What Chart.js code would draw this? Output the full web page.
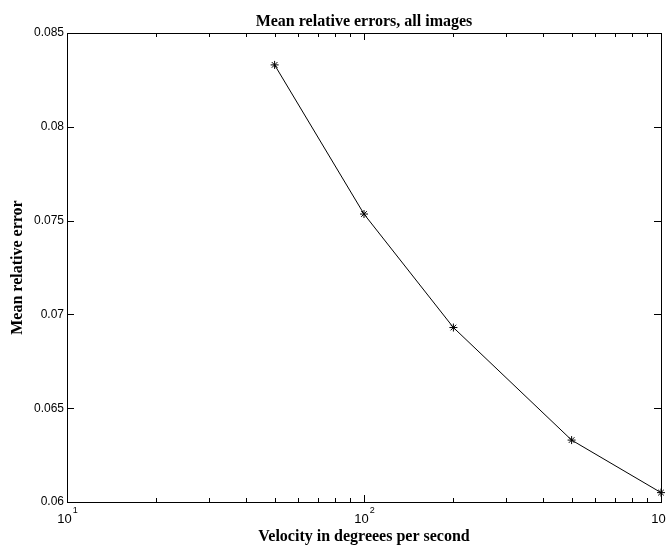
<!DOCTYPE html>
<html>
<head>
<meta charset="utf-8">
<script src="https://cdn.jsdelivr.net/npm/chart.js@4.4.0/dist/chart.umd.min.js"></script>
<style>
    html, body { margin: 0; padding: 0; background: #ffffff; }
    #wrap { width: 666px; height: 546px; }
</style>
</head>
<body>
<div id="wrap"><canvas id="errChart" width="666" height="546"></canvas></div>
<script>
// velocities (deg/s) and the mean relative error at each one
const velocities = [50, 100, 200, 500, 1000];
const meanErrors = [0.0833, 0.07535, 0.0693, 0.0633, 0.0605];

// axis ticks
const yTicks = [0.06, 0.065, 0.07, 0.075, 0.08, 0.085];
const yTickLabels = ['0.06', '0.065', '0.07', '0.075', '0.08', '0.085'];
const xMajorTicks = [10, 100, 1000];
const xMajorLabels = ['10', '10', '10'];
const xMajorExponents = ['1', '2', '3'];
const xMinorTicks = [20, 30, 40, 50, 60, 70, 80, 90, 200, 300, 400, 500, 600, 700, 800, 900];

const titleText = 'Mean relative errors, all images';
const xTitleText = 'Velocity in degreees per second';
const yTitleText = 'Mean relative error';

// box frame, inward ticks and all text
const framePlugin = {
    id: 'frame',
    afterDraw: function (chart) {
        const ctx = chart.ctx;
        const area = chart.chartArea;
        const xs = chart.scales.x;
        const ys = chart.scales.y;
        ctx.save();
        ctx.strokeStyle = '#000000';
        ctx.lineWidth = 1;

        // outer box
        ctx.strokeRect(Math.round(area.left) + 0.5, Math.round(area.top) + 0.5,
            Math.round(area.right - area.left), Math.round(area.bottom - area.top));

        ctx.beginPath();
        function xTick(v, len) {
            const px = Math.round(xs.getPixelForValue(v)) + 0.5;
            ctx.moveTo(px, area.bottom);
            ctx.lineTo(px, area.bottom - len);
            ctx.moveTo(px, area.top);
            ctx.lineTo(px, area.top + len);
        }
        xMajorTicks.forEach(function (v) { xTick(v, 7); });
        xMinorTicks.forEach(function (v) { xTick(v, 4); });
        yTicks.forEach(function (v) {
            const py = Math.round(ys.getPixelForValue(v)) + 0.5;
            ctx.moveTo(area.left, py);
            ctx.lineTo(area.left + 7, py);
            ctx.moveTo(area.right, py);
            ctx.lineTo(area.right - 7, py);
        });
        ctx.stroke();

        ctx.fillStyle = '#000000';
        // y tick labels
        ctx.font = '12px "Liberation Sans", Arial, sans-serif';
        ctx.textAlign = 'right';
        ctx.textBaseline = 'middle';
        yTicks.forEach(function (v, i) {
            ctx.fillText(yTickLabels[i], area.left - 3, ys.getPixelForValue(v));
        });

        // x tick labels with exponent
        xMajorTicks.forEach(function (v, i) {
            const px = xs.getPixelForValue(v);
            ctx.font = '13px "Liberation Sans", Arial, sans-serif';
            const baseW = ctx.measureText(xMajorLabels[i]).width;
            ctx.font = '9px "Liberation Sans", Arial, sans-serif';
            const expW = ctx.measureText(xMajorExponents[i]).width;
            const start = px - (baseW + expW) / 2;
            ctx.textAlign = 'left';
            ctx.textBaseline = 'alphabetic';
            ctx.font = '13px "Liberation Sans", Arial, sans-serif';
            ctx.fillText(xMajorLabels[i], start, area.bottom + 21);
            ctx.font = '9px "Liberation Sans", Arial, sans-serif';
            ctx.fillText(xMajorExponents[i], start + baseW + 1, area.bottom + 11);
        });

        // titles
        const cx = (area.left + area.right) / 2;
        const cy = (area.top + area.bottom) / 2;
        ctx.font = 'bold 16px "Liberation Serif", "Times New Roman", serif';
        ctx.textAlign = 'center';
        ctx.textBaseline = 'middle';
        ctx.fillText(titleText, cx, 22);
        ctx.fillText(xTitleText, cx, 537);
        ctx.translate(18, cy);
        ctx.rotate(-Math.PI / 2);
        ctx.fillText(yTitleText, 0, 0);
        ctx.restore();
    }
};

const points = velocities.map(function (v, i) { return { x: v, y: meanErrors[i] }; });

new Chart(document.getElementById('errChart').getContext('2d'), {
    type: 'line',
    data: {
        datasets: [{
            data: points,
            borderColor: '#000000',
            borderWidth: 1,
            tension: 0,
            pointStyle: 'star',
            pointRadius: 4,
            pointBorderColor: '#000000',
            pointBackgroundColor: '#000000',
            pointBorderWidth: 1,
            clip: false
        }]
    },
    options: {
        responsive: false,
        animation: false,
        devicePixelRatio: 1,
        layout: { padding: { left: 67, top: 33, right: 3, bottom: 44 } },
        plugins: {
            legend: { display: false },
            title: { display: false },
            tooltip: { enabled: false }
        },
        scales: {
            x: { type: 'logarithmic', min: 10, max: 1000, display: false },
            y: { type: 'linear', min: 0.06, max: 0.085, display: false }
        }
    },
    plugins: [framePlugin]
});
</script>
</body>
</html>
